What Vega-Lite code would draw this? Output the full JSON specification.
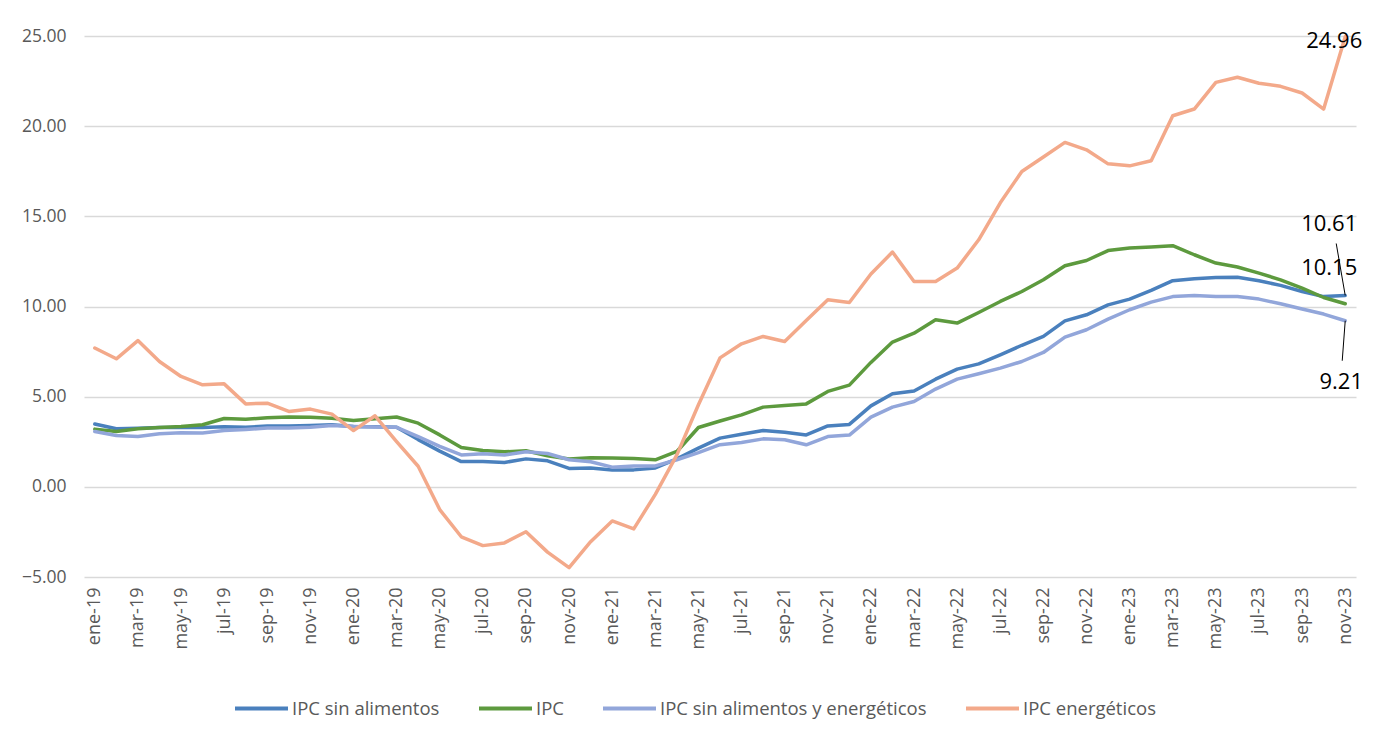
{
  "$schema": "https://vega.github.io/schema/vega-lite/v6.json",
  "width": 1272,
  "height": 541,
  "autosize": {"type": "none"},
  "padding": {"left": 84, "top": 36, "right": 24, "bottom": 172},
  "background": "white",
  "config": {
    "view": {"stroke": null},
    "font": "Open Sans",
    "legend": {
      "orient": "none",
      "legendX": 149,
      "legendY": 644,
      "direction": "horizontal",
      "title": null,
      "symbolType": "stroke",
      "symbolSize": 2809,
      "symbolStrokeWidth": 4,
      "labelFontSize": 18.5,
      "labelColor": "#595959",
      "labelFont": "Open Sans",
      "labelLimit": 0,
      "columnPadding": 31,
      "labelOffset": 2,
      "padding": 0
    }
  },
  "data": {
    "values": [
      {"mes": "ene-19", "IPC sin alimentos": 3.48, "IPC": 3.2, "IPC sin alimentos y energéticos": 3.07, "IPC energéticos": 7.7},
      {"mes": "feb-19", "IPC sin alimentos": 3.22, "IPC": 3.07, "IPC sin alimentos y energéticos": 2.85, "IPC energéticos": 7.1},
      {"mes": "mar-19", "IPC sin alimentos": 3.25, "IPC": 3.22, "IPC sin alimentos y energéticos": 2.79, "IPC energéticos": 8.11},
      {"mes": "abr-19", "IPC sin alimentos": 3.29, "IPC": 3.29, "IPC sin alimentos y energéticos": 2.94, "IPC energéticos": 6.95},
      {"mes": "may-19", "IPC sin alimentos": 3.29, "IPC": 3.34, "IPC sin alimentos y energéticos": 3.0, "IPC energéticos": 6.12},
      {"mes": "jun-19", "IPC sin alimentos": 3.29, "IPC": 3.44, "IPC sin alimentos y energéticos": 2.98, "IPC energéticos": 5.66},
      {"mes": "jul-19", "IPC sin alimentos": 3.33, "IPC": 3.79, "IPC sin alimentos y energéticos": 3.12, "IPC energéticos": 5.71},
      {"mes": "ago-19", "IPC sin alimentos": 3.3, "IPC": 3.75, "IPC sin alimentos y energéticos": 3.18, "IPC energéticos": 4.6},
      {"mes": "sep-19", "IPC sin alimentos": 3.37, "IPC": 3.83, "IPC sin alimentos y energéticos": 3.26, "IPC energéticos": 4.64},
      {"mes": "oct-19", "IPC sin alimentos": 3.37, "IPC": 3.87, "IPC sin alimentos y energéticos": 3.26, "IPC energéticos": 4.18},
      {"mes": "nov-19", "IPC sin alimentos": 3.4, "IPC": 3.86, "IPC sin alimentos y energéticos": 3.3, "IPC energéticos": 4.31},
      {"mes": "dic-19", "IPC sin alimentos": 3.44, "IPC": 3.8, "IPC sin alimentos y energéticos": 3.4, "IPC energéticos": 4.03},
      {"mes": "ene-20", "IPC sin alimentos": 3.35, "IPC": 3.68, "IPC sin alimentos y energéticos": 3.35, "IPC energéticos": 3.12},
      {"mes": "feb-20", "IPC sin alimentos": 3.33, "IPC": 3.77, "IPC sin alimentos y energéticos": 3.32, "IPC energéticos": 3.94},
      {"mes": "mar-20", "IPC sin alimentos": 3.3, "IPC": 3.87, "IPC sin alimentos y energéticos": 3.3, "IPC energéticos": 2.51},
      {"mes": "abr-20", "IPC sin alimentos": 2.62, "IPC": 3.53, "IPC sin alimentos y energéticos": 2.79, "IPC energéticos": 1.14},
      {"mes": "may-20", "IPC sin alimentos": 1.98, "IPC": 2.88, "IPC sin alimentos y energéticos": 2.24, "IPC energéticos": -1.26},
      {"mes": "jun-20", "IPC sin alimentos": 1.4, "IPC": 2.18, "IPC sin alimentos y energéticos": 1.77, "IPC energéticos": -2.77},
      {"mes": "jul-20", "IPC sin alimentos": 1.41, "IPC": 2.01, "IPC sin alimentos y energéticos": 1.83, "IPC energéticos": -3.26},
      {"mes": "ago-20", "IPC sin alimentos": 1.35, "IPC": 1.94, "IPC sin alimentos y energéticos": 1.77, "IPC energéticos": -3.11},
      {"mes": "sep-20", "IPC sin alimentos": 1.55, "IPC": 2.0, "IPC sin alimentos y energéticos": 1.94, "IPC energéticos": -2.49},
      {"mes": "oct-20", "IPC sin alimentos": 1.44, "IPC": 1.72, "IPC sin alimentos y energéticos": 1.85, "IPC energéticos": -3.62},
      {"mes": "nov-20", "IPC sin alimentos": 1.02, "IPC": 1.54, "IPC sin alimentos y energéticos": 1.5, "IPC energéticos": -4.48},
      {"mes": "dic-20", "IPC sin alimentos": 1.05, "IPC": 1.61, "IPC sin alimentos y energéticos": 1.39, "IPC energéticos": -3.04},
      {"mes": "ene-21", "IPC sin alimentos": 0.93, "IPC": 1.6, "IPC sin alimentos y energéticos": 1.09, "IPC energéticos": -1.89},
      {"mes": "feb-21", "IPC sin alimentos": 0.94, "IPC": 1.57, "IPC sin alimentos y energéticos": 1.16, "IPC energéticos": -2.33},
      {"mes": "mar-21", "IPC sin alimentos": 1.05, "IPC": 1.5, "IPC sin alimentos y energéticos": 1.16, "IPC energéticos": -0.42},
      {"mes": "abr-21", "IPC sin alimentos": 1.55, "IPC": 1.96, "IPC sin alimentos y energéticos": 1.5, "IPC energéticos": 1.77},
      {"mes": "may-21", "IPC sin alimentos": 2.15, "IPC": 3.29, "IPC sin alimentos y energéticos": 1.9, "IPC energéticos": 4.55},
      {"mes": "jun-21", "IPC sin alimentos": 2.7, "IPC": 3.65, "IPC sin alimentos y energéticos": 2.34, "IPC energéticos": 7.15},
      {"mes": "jul-21", "IPC sin alimentos": 2.92, "IPC": 3.99, "IPC sin alimentos y energéticos": 2.46, "IPC energéticos": 7.93},
      {"mes": "ago-21", "IPC sin alimentos": 3.12, "IPC": 4.42, "IPC sin alimentos y energéticos": 2.66, "IPC energéticos": 8.34},
      {"mes": "sep-21", "IPC sin alimentos": 3.03, "IPC": 4.51, "IPC sin alimentos y energéticos": 2.61, "IPC energéticos": 8.06},
      {"mes": "oct-21", "IPC sin alimentos": 2.88, "IPC": 4.6, "IPC sin alimentos y energéticos": 2.33, "IPC energéticos": 9.22},
      {"mes": "nov-21", "IPC sin alimentos": 3.38, "IPC": 5.29, "IPC sin alimentos y energéticos": 2.79, "IPC energéticos": 10.37},
      {"mes": "dic-21", "IPC sin alimentos": 3.46, "IPC": 5.64, "IPC sin alimentos y energéticos": 2.87, "IPC energéticos": 10.22},
      {"mes": "ene-22", "IPC sin alimentos": 4.49, "IPC": 6.9, "IPC sin alimentos y energéticos": 3.87, "IPC energéticos": 11.8},
      {"mes": "feb-22", "IPC sin alimentos": 5.16, "IPC": 8.03, "IPC sin alimentos y energéticos": 4.42, "IPC energéticos": 13.02},
      {"mes": "mar-22", "IPC sin alimentos": 5.31, "IPC": 8.52, "IPC sin alimentos y energéticos": 4.73, "IPC energéticos": 11.39},
      {"mes": "abr-22", "IPC sin alimentos": 5.97, "IPC": 9.26, "IPC sin alimentos y energéticos": 5.42, "IPC energéticos": 11.39},
      {"mes": "may-22", "IPC sin alimentos": 6.53, "IPC": 9.08, "IPC sin alimentos y energéticos": 5.97, "IPC energéticos": 12.13},
      {"mes": "jun-22", "IPC sin alimentos": 6.82, "IPC": 9.67, "IPC sin alimentos y energéticos": 6.27, "IPC energéticos": 13.7},
      {"mes": "jul-22", "IPC sin alimentos": 7.32, "IPC": 10.28, "IPC sin alimentos y energéticos": 6.58, "IPC energéticos": 15.75},
      {"mes": "ago-22", "IPC sin alimentos": 7.85, "IPC": 10.83, "IPC sin alimentos y energéticos": 6.95, "IPC energéticos": 17.49},
      {"mes": "sep-22", "IPC sin alimentos": 8.34, "IPC": 11.48, "IPC sin alimentos y energéticos": 7.45, "IPC energéticos": 18.29},
      {"mes": "oct-22", "IPC sin alimentos": 9.2, "IPC": 12.26, "IPC sin alimentos y energéticos": 8.3, "IPC energéticos": 19.1},
      {"mes": "nov-22", "IPC sin alimentos": 9.54, "IPC": 12.55, "IPC sin alimentos y energéticos": 8.71, "IPC energéticos": 18.69},
      {"mes": "dic-22", "IPC sin alimentos": 10.09, "IPC": 13.1, "IPC sin alimentos y energéticos": 9.3, "IPC energéticos": 17.91},
      {"mes": "ene-23", "IPC sin alimentos": 10.41, "IPC": 13.24, "IPC sin alimentos y energéticos": 9.82, "IPC energéticos": 17.8},
      {"mes": "feb-23", "IPC sin alimentos": 10.89, "IPC": 13.3, "IPC sin alimentos y energéticos": 10.24, "IPC energéticos": 18.08},
      {"mes": "mar-23", "IPC sin alimentos": 11.43, "IPC": 13.37, "IPC sin alimentos y energéticos": 10.55, "IPC energéticos": 20.58},
      {"mes": "abr-23", "IPC sin alimentos": 11.54, "IPC": 12.87, "IPC sin alimentos y energéticos": 10.61, "IPC energéticos": 20.95},
      {"mes": "may-23", "IPC sin alimentos": 11.61, "IPC": 12.41, "IPC sin alimentos y energéticos": 10.55, "IPC energéticos": 22.43},
      {"mes": "jun-23", "IPC sin alimentos": 11.62, "IPC": 12.19, "IPC sin alimentos y energéticos": 10.55, "IPC energéticos": 22.71},
      {"mes": "jul-23", "IPC sin alimentos": 11.43, "IPC": 11.85, "IPC sin alimentos y energéticos": 10.41, "IPC energéticos": 22.38},
      {"mes": "ago-23", "IPC sin alimentos": 11.17, "IPC": 11.48, "IPC sin alimentos y energéticos": 10.15, "IPC energéticos": 22.21},
      {"mes": "sep-23", "IPC sin alimentos": 10.83, "IPC": 11.02, "IPC sin alimentos y energéticos": 9.86, "IPC energéticos": 21.84},
      {"mes": "oct-23", "IPC sin alimentos": 10.55, "IPC": 10.5, "IPC sin alimentos y energéticos": 9.58, "IPC energéticos": 20.95},
      {"mes": "nov-23", "IPC sin alimentos": 10.61, "IPC": 10.15, "IPC sin alimentos y energéticos": 9.21, "IPC energéticos": 24.96}
    ]
  },
  "transform": [
    {"fold": ["IPC sin alimentos", "IPC", "IPC sin alimentos y energéticos", "IPC energéticos"], "as": ["serie", "valor"]}
  ],
  "encoding": {
    "x": {
      "field": "mes",
      "type": "ordinal",
      "sort": null,
      "scale": {"type": "point", "padding": 0.5},
      "axis": {
        "title": null,
        "values": ["ene-19", "mar-19", "may-19", "jul-19", "sep-19", "nov-19", "ene-20", "mar-20", "may-20", "jul-20", "sep-20", "nov-20", "ene-21", "mar-21", "may-21", "jul-21", "sep-21", "nov-21", "ene-22", "mar-22", "may-22", "jul-22", "sep-22", "nov-22", "ene-23", "mar-23", "may-23", "jul-23", "sep-23", "nov-23"],
        "labelAngle": 270,
        "labelFontSize": 18,
        "labelColor": "#595959",
        "labelFont": "Open Sans",
        "labelPadding": 10,
        "ticks": false,
        "domain": false,
        "grid": false
      }
    },
    "y": {
      "field": "valor",
      "type": "quantitative",
      "scale": {"domain": [-5, 25], "nice": false, "zero": false},
      "axis": {
        "title": null,
        "values": [-5, 0, 5, 10, 15, 20, 25],
        "format": ".2f",
        "labelFontSize": 17.5,
        "labelColor": "#595959",
        "labelFont": "Open Sans",
        "labelPadding": 18,
        "ticks": false,
        "domain": false,
        "grid": true,
        "gridColor": "#d9d9d9",
        "gridWidth": 1.5
      }
    }
  },
  "layer": [
    {
      "mark": {"type": "line", "strokeWidth": 3.5, "strokeJoin": "round", "strokeCap": "round"},
      "encoding": {
        "color": {
          "field": "serie",
          "type": "nominal",
          "sort": ["IPC sin alimentos", "IPC", "IPC sin alimentos y energéticos", "IPC energéticos"],
          "scale": {
            "domain": ["IPC sin alimentos", "IPC", "IPC sin alimentos y energéticos", "IPC energéticos"],
            "range": ["#4a80bd", "#5d9a3e", "#92a6da", "#f3a98a"]
          }
        }
      }
    },
    {
      "transform": [{"filter": "datum.mes === 'nov-23' && datum.serie === 'IPC sin alimentos'"}],
      "mark": {"type": "rule", "color": "black", "strokeWidth": 1, "x2Offset": -9, "y2Offset": -52},
      "encoding": {"x2": {"field": "mes"}, "y2": {"field": "valor"}}
    },
    {
      "transform": [{"filter": "datum.mes === 'nov-23' && datum.serie === 'IPC sin alimentos y energéticos'"}],
      "mark": {"type": "rule", "color": "black", "strokeWidth": 1, "x2Offset": -3, "y2Offset": 40},
      "encoding": {"x2": {"field": "mes"}, "y2": {"field": "valor"}}
    },
    {
      "transform": [{"filter": "datum.mes === 'nov-23' && datum.serie === 'IPC energéticos'"}],
      "mark": {"type": "text", "dx": -11, "dy": 4, "fontSize": 22, "color": "black", "align": "center", "baseline": "middle", "font": "Open Sans"},
      "encoding": {"text": {"field": "valor", "type": "quantitative", "format": ".2f"}}
    },
    {
      "transform": [{"filter": "datum.mes === 'nov-23' && datum.serie === 'IPC sin alimentos'"}],
      "mark": {"type": "text", "dx": -16, "dy": -71, "fontSize": 22, "color": "black", "align": "center", "baseline": "middle", "font": "Open Sans"},
      "encoding": {"text": {"field": "valor", "type": "quantitative", "format": ".2f"}}
    },
    {
      "transform": [{"filter": "datum.mes === 'nov-23' && datum.serie === 'IPC'"}],
      "mark": {"type": "text", "dx": -16, "dy": -36, "fontSize": 22, "color": "black", "align": "center", "baseline": "middle", "font": "Open Sans"},
      "encoding": {"text": {"field": "valor", "type": "quantitative", "format": ".2f"}}
    },
    {
      "transform": [{"filter": "datum.mes === 'nov-23' && datum.serie === 'IPC sin alimentos y energéticos'"}],
      "mark": {"type": "text", "dx": -4, "dy": 61, "fontSize": 22, "color": "black", "align": "center", "baseline": "middle", "font": "Open Sans"},
      "encoding": {"text": {"field": "valor", "type": "quantitative", "format": ".2f"}}
    }
  ]
}
